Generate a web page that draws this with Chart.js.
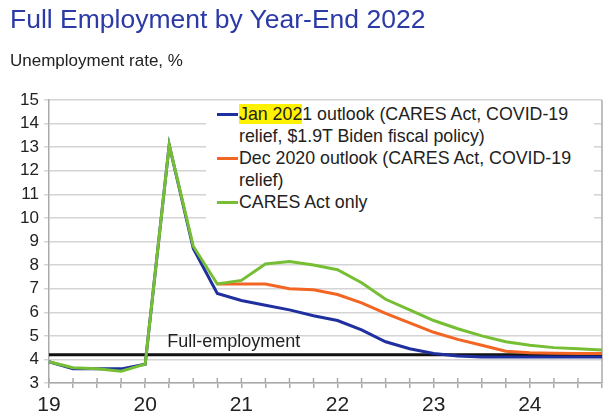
<!DOCTYPE html>
<html>
<head>
<meta charset="utf-8">
<script src="https://cdn.jsdelivr.net/npm/chart.js@4.4.0/dist/chart.umd.min.js"></script>
<style>
  body { margin: 0; background: #fff; font-family: "Liberation Sans", Arial, sans-serif; }
  #wrap { position: relative; width: 609px; height: 417px; }
  #title { position: absolute; left: 10px; top: 4px; font-size: 26.5px; color: #2B3AA6; white-space: nowrap; }
  #sub { position: absolute; left: 10px; top: 51px; font-size: 17px; color: #222; white-space: nowrap; }
  #legend { position: absolute; left: 206px; top: 103px; width: 388px; height: 120px; background: #fff;
            font-size: 17.8px; color: #222; line-height: 22px; }
  #legend .row { position: relative; padding-left: 33px; }
  #legend .sw { position: absolute; left: 11px; top: 10px; width: 21px; height: 3px; }
  #legend .hl { background: #FFF200; }
  canvas { position: absolute; left: 0; top: 0; }
</style>
</head>
<body>
<div id="wrap">
  <canvas id="miGrafica" width="609" height="417"></canvas>
  <div id="title">Full Employment by Year-End 2022</div>
  <div id="sub">Unemployment rate, %</div>
  <div id="legend">
    <div class="row"><span class="sw" style="background:#1F2F9F"></span><span class="hl">Jan 202</span>1 outlook (CARES Act, COVID-19<br>relief, $1.9T Biden fiscal policy)</div>
    <div class="row"><span class="sw" style="background:#F26522"></span>Dec 2020 outlook (CARES Act, COVID-19<br>relief)</div>
    <div class="row"><span class="sw" style="background:#76BE33"></span>CARES Act only</div>
  </div>
</div>
<script>
// quarters 2019Q1 .. 2024Q4
var quarters = ["19Q1","19Q2","19Q3","19Q4","20Q1","20Q2","20Q3","20Q4",
                "21Q1","21Q2","21Q3","21Q4","22Q1","22Q2","22Q3","22Q4",
                "23Q1","23Q2","23Q3","23Q4","24Q1","24Q2","24Q3","24Q4"];
var yearLabels = ["19","","","","20","","","","21","","","","22","","","","23","","","","24","","",""];

var jan2021 = [3.9, 3.6, 3.6, 3.6, 3.8, 13.1, 8.7, 6.8, 6.5, 6.3, 6.1, 5.85, 5.65, 5.25, 4.75, 4.45,
               4.25, 4.15, 4.1, 4.1, 4.1, 4.1, 4.1, 4.1];
var dec2020 = [null, null, null, null, null, null, null, 7.2, 7.2, 7.2, 7.0, 6.95, 6.75, 6.4, 5.95, 5.55,
               5.15, 4.85, 4.6, 4.35, 4.28, 4.26, 4.25, 4.25];
var caresOnly = [3.9, 3.65, 3.6, 3.5, 3.8, 13.1, 8.8, 7.2, 7.35, 8.05, 8.15, 8.0, 7.8, 7.25, 6.55, 6.1,
                 5.65, 5.3, 5.0, 4.75, 4.6, 4.5, 4.45, 4.4];
var fullEmployment = 4.2;
var yTicks = [3, 4, 5, 6, 7, 8, 9, 10, 11, 12, 13, 14, 15];

document.addEventListener("DOMContentLoaded", function() {
    var ctx = document.getElementById("miGrafica").getContext("2d");

    // black full-employment line, its label, the right border and the crossing x tick marks
    var extras = {
        id: "extras",
        beforeDatasetsDraw: function(chart) {
            var a = chart.chartArea, c = chart.ctx, x = chart.scales.x;
            var y = chart.scales.y.getPixelForValue(fullEmployment);
            c.save();
            c.strokeStyle = "#aaaaaa";
            c.lineWidth = 1.5;
            c.beginPath();
            c.moveTo(a.right, a.top);
            c.lineTo(a.right, a.bottom);
            for (var i = 0; i < quarters.length; i++) {
                var px = x.getPixelForValue(i);
                c.moveTo(px, a.bottom - 5);
                c.lineTo(px, a.bottom);
            }
            c.stroke();
            c.strokeStyle = "#111";
            c.lineWidth = 3;
            c.beginPath();
            c.moveTo(a.left, y);
            c.lineTo(a.right, y);
            c.stroke();
            c.fillStyle = "#222";
            c.font = "18px 'Liberation Sans', Arial, sans-serif";
            c.textBaseline = "alphabetic";
            c.fillText("Full-employment", x.getPixelForValue(5) - 2, y - 8);
            c.restore();
        }
    };

    var data = {
        labels: quarters,
        datasets: [{
            label: "Jan 2021 outlook (CARES Act, COVID-19 relief, $1.9T Biden fiscal policy)",
            data: jan2021,
            borderColor: "#1F2F9F",
            borderWidth: 3,
            pointRadius: 0,
            order: 2
        }, {
            label: "Dec 2020 outlook (CARES Act, COVID-19 relief)",
            data: dec2020,
            borderColor: "#F26522",
            borderWidth: 3,
            pointRadius: 0,
            order: 1
        }, {
            label: "CARES Act only",
            data: caresOnly,
            borderColor: "#76BE33",
            borderWidth: 3,
            pointRadius: 0,
            order: 0
        }]
    };

    var options = {
        responsive: false,
        animation: false,
        layout: { padding: { left: 0, right: 7, top: 100, bottom: 0 } },
        plugins: { legend: { display: false }, tooltip: { enabled: false } },
        scales: {
            x: {
                offset: false,
                afterFit: function(s) { s.height = 34; },
                border: { color: "#aaaaaa", width: 1.5 },
                grid: { drawOnChartArea: false, drawTicks: true, tickLength: 5, color: "#aaaaaa", lineWidth: 1.5 },
                ticks: {
                    autoSkip: false, maxRotation: 0, padding: 5,
                    color: "#222", font: { size: 21, family: "'Liberation Sans', Arial, sans-serif" },
                    callback: function(v, i) { return yearLabels[i]; }
                }
            },
            y: {
                min: 3, max: 15,
                afterFit: function(s) { s.width = 49; },
                afterBuildTicks: function(s) { s.ticks = yTicks.map(function(v) { return { value: v }; }); },
                border: { color: "#aaaaaa", width: 1.5 },
                grid: { color: "#d4d4d4", lineWidth: 1.5, tickLength: 5 },
                ticks: {
                    padding: 5,
                    color: "#222", font: { size: 17, family: "'Liberation Sans', Arial, sans-serif" }
                }
            }
        }
    };

    var myChart = new Chart(ctx, {
        type: "line",
        data: data,
        options: options,
        plugins: [extras]
    });
});
</script>
</body>
</html>
